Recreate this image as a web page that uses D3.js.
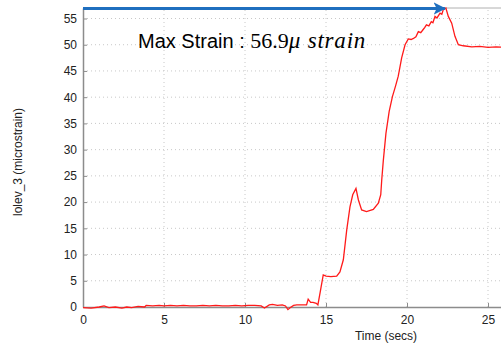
<!DOCTYPE html>
<html><head><meta charset="utf-8">
<script src="https://cdn.jsdelivr.net/npm/d3@7"></script>
<style>body{margin:0;background:#fff}svg{display:block}</style>
</head><body>
<svg id="c" width="501" height="347"></svg>
<script>
const xTicks = [0,5,10,15,20,25];
const yTicks = [0,5,10,15,20,25,30,35,40,45,50,55];
const timeSecs = [0,0.5,1,1.3,1.6,2,2.4,2.7,3,3.4,3.8,3.9,4.3,4.7,5,5.4,5.8,6.2,6.6,7,7.4,7.8,8.2,8.6,9,9.4,9.8,10.2,10.6,11,11.2,11.5,11.7,12,12.3,12.5,12.65,12.8,13.0,13.2,13.5,13.8,13.9,14.05,14.2,14.4,14.5,14.65,14.83,15.0,15.3,15.66,15.86,16.07,16.28,16.48,16.65,16.85,17.0,17.2,17.5,17.92,18.23,18.38,18.44,18.54,18.7,18.9,19.1,19.3,19.46,19.67,19.88,20.08,20.25,20.4,20.55,20.7,20.85,21.0,21.1,21.2,21.35,21.5,21.6,21.73,21.85,22.04,22.15,22.24,22.4,22.55,22.76,22.96,23.17,23.47,24,24.5,25,25.5,26];
const strain = [-0.1,-0.2,0,0.2,-0.1,0,-0.2,0,-0.1,0.1,0,0.3,0.2,0.3,0.2,0.3,0.2,0.3,0.2,0.2,0.3,0.2,0.3,0.2,0.2,0.3,0.2,0.3,0.3,0.2,-0.2,0.4,0.5,0.3,0.4,0.2,-0.5,-0.1,0.3,0.4,0.4,0.4,1.5,0.9,0.9,0.7,0.4,3.0,6.1,5.9,5.8,5.9,6.7,9.0,14.7,19.1,21.4,22.6,20.4,18.5,18.2,18.6,19.8,21.4,24.2,28,33.1,37.3,40.1,42.2,44,47.5,50,51.1,51.0,51.2,51.5,52.5,52.3,52.9,53.3,53.8,53.6,54.4,54.2,55.4,55.1,56,55.8,56.7,57,55.4,54.1,51.6,50,49.8,49.6,49.7,49.5,49.6,49.5];
const maxStrain = 56.9, maxTime = 22.4;
const yLabel = "lolev_3 (microstrain)", xLabel = "Time (secs)";

const svg = d3.select("#c");
const x = d3.scaleLinear().domain([0,26]).range([83,504.2]);
const y = d3.scaleLinear().domain([0,57]).range([307,8]);

// grid
svg.append("g").selectAll("line").data(xTicks.slice(1)).join("line")
  .attr("x1",d=>x(d)).attr("x2",d=>x(d)).attr("y1",y(0)).attr("y2",y(57))
  .attr("stroke","#c8c8c8").attr("stroke-dasharray","1,3");
svg.append("g").selectAll("line").data(yTicks.slice(1)).join("line")
  .attr("y1",d=>y(d)).attr("y2",d=>y(d)).attr("x1",x(0)).attr("x2",501)
  .attr("stroke","#c8c8c8").attr("stroke-dasharray","1,3");

// axes (inward ticks)
const xa = svg.append("g").attr("transform",`translate(0,${y(0)})`)
  .call(d3.axisBottom(x).tickValues(xTicks).tickSizeInner(-4).tickSizeOuter(0).tickPadding(8));
const ya = svg.append("g").attr("transform",`translate(${x(0)},0)`)
  .call(d3.axisLeft(y).tickValues(yTicks).tickSizeInner(-4).tickSizeOuter(0).tickPadding(6));
[xa,ya].forEach(g=>{
  g.select(".domain").attr("stroke","#8c8c8c").attr("stroke-width",1.5);
  g.selectAll(".tick line").attr("stroke","#8c8c8c");
  g.selectAll("text").attr("font-family","Liberation Sans, Arial, sans-serif").attr("font-size",12).attr("fill","#222");
});
// top box line
svg.append("line").attr("x1",x(0)).attr("x2",501).attr("y1",y(57)).attr("y2",y(57)).attr("stroke","#b0b0b0");

// data line
svg.append("path").datum(timeSecs.map((t,i)=>[t,strain[i]]))
  .attr("d",d3.line().x(d=>x(d[0])).y(d=>y(d[1])))
  .attr("fill","none").attr("stroke","#ff1a1a").attr("stroke-width",1.3);

// arrow
svg.append("defs").append("marker").attr("id","ah").attr("viewBox","0 0 10 10")
  .attr("refX",9).attr("refY",5).attr("markerWidth",4.2).attr("markerHeight",4.2)
  .attr("markerUnits","strokeWidth").attr("orient","auto")
  .append("path").attr("d","M0,0 L10,5 L0,10 L2.5,5 Z").attr("fill","#1f6fbf");
svg.append("line").attr("x1",x(0)).attr("x2",x(maxTime)-1).attr("y1",y(maxStrain)).attr("y2",y(maxStrain))
  .attr("stroke","#1f6fbf").attr("stroke-width",3).attr("marker-end","url(#ah)");

// annotation
const t = svg.append("text").attr("x",138).attr("y",48).attr("font-size",20).attr("fill","#000");
t.append("tspan").attr("font-family","Liberation Sans, Arial, sans-serif").text("Max Strain : ");
t.append("tspan").attr("font-family","Liberation Serif, DejaVu Serif, serif").attr("font-size",22).text(maxStrain.toFixed(1));
t.append("tspan").attr("font-family","Liberation Serif, DejaVu Serif, serif").attr("font-style","italic").attr("font-size",23).attr("letter-spacing",0.8).text("\u03bc strain");

// labels
svg.append("text").attr("x",386).attr("y",340).attr("text-anchor","middle")
  .attr("font-family","Liberation Sans, Arial, sans-serif").attr("font-size",12).attr("fill","#222").text(xLabel);
svg.append("text").attr("transform","translate(22,162) rotate(-90)").attr("text-anchor","middle")
  .attr("font-family","Liberation Sans, Arial, sans-serif").attr("font-size",12).attr("fill","#222").text(yLabel);
</script>
</body></html>
